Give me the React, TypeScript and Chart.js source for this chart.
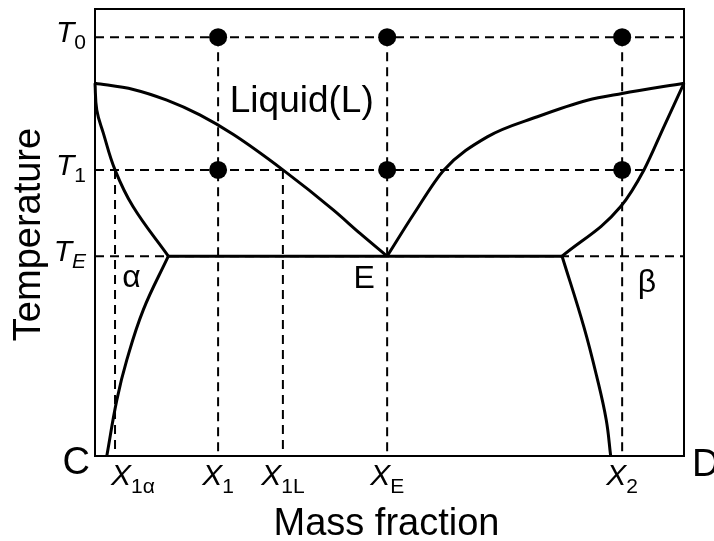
import React, { useEffect, useRef } from 'react';
import { Chart, registerables } from 'chart.js';

Chart.register(...registerables);

// Temperature levels on a 0–100 scale
const T0 = 93.7;
const T1 = 64.0;
const TE = 44.7;

// Characteristic compositions (mass fraction, 0–100)
const X1A = 3.4;
const X1 = 20.9;
const X1L = 31.9;
const XE = 49.6;
const X2 = 89.5;

// Axis tick labels
const tempLevels = [T0, T1, TE];
const tempSubs = ['0', '1', 'E'];
const tempSubItalic = [false, false, true];
const compValues = [X1A, X1, X1L, XE, X2];
const compSubs = ['1\u03b1', '1', '1L', 'E', '2'];

// Phase boundaries, each listed in increasing composition
const leftLiquidusX = [0, 6.5, 12.2, 17.8, 23.5, 31.9, 40.5, 45.0, XE];
const leftLiquidusY = [83.4, 82.0, 79.6, 76.3, 71.9, 64.0, 55.0, 49.8, TE];

const leftSolidusX = [0, 0.3, 1.4, 3.4, 6.45, 12.45];
const leftSolidusY = [83.4, 77.4, 72.3, 64.0, 55.8, TE];

const leftSolvusX = [2.0, 3.7, 5.4, 8.2, 12.45];
const leftSolvusY = [0, 12.5, 21.5, 32.7, TE];

const rightLiquidusX = [XE, 54.2, 59.25, 66.6, 75.1, 83.6, 89.5, 100];
const rightLiquidusY = [TE, 54.3, 64.0, 71.4, 75.9, 79.6, 81.1, 83.4];

const rightSolidusX = [79.3, 89.25, 93.2, 96.6, 100];
const rightSolidusY = [TE, 55.8, 64.0, 73.7, 83.4];

const rightSolvusX = [79.3, 83.0, 85.2, 86.8, 87.55];
const rightSolvusY = [TE, 28.9, 17.7, 8.05, 0];

const eutecticX = [12.45, 79.3];

// State points (composition, temperature)
const stateX = [X1, XE, X2, X1, XE, X2];
const stateY = [T0, T0, T0, T1, T1, T1];

// Region labels
const regionText = ['Liquid(L)', 'E', '\u03b1', '\u03b2'];
const regionX = [35.1, 45.7, 6.2, 93.7];
const regionY = [77.0, 37.6, 37.8, 36.7];

const FONT = '"Liberation Sans", Arial, Helvetica, sans-serif';

const pts = (xs: number[], ys: number[]) => xs.map((x, i) => ({ x, y: ys[i] }));

// liquidus / solidus: smooth in composition; steep branches: bezier smoothing
function curve(data: { x: number; y: number }[], monotone: boolean) {
  return {
    data,
    showLine: true,
    borderColor: '#000',
    borderWidth: 3,
    pointRadius: 0,
    ...(monotone ? { cubicInterpolationMode: 'monotone' } : { tension: 0.4 }),
    fill: false,
    order: 2,
    clip: 6,
  };
}

function dashed(data: { x: number; y: number }[]) {
  return {
    data,
    showLine: true,
    borderColor: '#000',
    borderWidth: 2,
    borderDash: [9, 6],
    pointRadius: 0,
    tension: 0,
    fill: false,
    order: 3,
    clip: 6,
  };
}

function drawComposite(
  ctx: CanvasRenderingContext2D,
  main: string,
  sub: string,
  subItalic: boolean,
  left: number,
  base: number,
  mainSize: number,
  subSize: number,
  drop: number
) {
  ctx.font = `italic ${mainSize}px ${FONT}`;
  const mw = ctx.measureText(main).width;
  ctx.fillText(main, left, base);
  ctx.font = `${subItalic ? 'italic ' : ''}${subSize}px ${FONT}`;
  ctx.fillText(sub, left + mw, base + drop);
}

function compositeWidth(
  ctx: CanvasRenderingContext2D,
  main: string,
  sub: string,
  subItalic: boolean,
  mainSize: number,
  subSize: number
) {
  ctx.font = `italic ${mainSize}px ${FONT}`;
  const mw = ctx.measureText(main).width;
  ctx.font = `${subItalic ? 'italic ' : ''}${subSize}px ${FONT}`;
  return mw + ctx.measureText(sub).width;
}

const labelsPlugin = {
  id: 'phaseLabels',
  afterDraw(chart: any) {
    const { ctx, chartArea, scales } = chart;
    const xs = scales.x;
    const ys = scales.y;
    const { left, right, top, bottom } = chartArea;
    ctx.save();

    // frame
    ctx.strokeStyle = '#000';
    ctx.lineWidth = 2;
    ctx.setLineDash([]);
    ctx.strokeRect(left, top, right - left, bottom - top);

    ctx.fillStyle = '#000';
    ctx.textAlign = 'left';
    ctx.textBaseline = 'alphabetic';

    // temperature tick labels
    tempLevels.forEach((v, i) => {
      const py = ys.getPixelForValue(v);
      const w = compositeWidth(ctx, 'T', tempSubs[i], tempSubItalic[i], 30, 21);
      drawComposite(ctx, 'T', tempSubs[i], tempSubItalic[i], left - 9 - w, py + 5, 30, 21, 7);
    });

    // composition tick labels
    compValues.forEach((v, i) => {
      const px = xs.getPixelForValue(v);
      const w = compositeWidth(ctx, 'X', compSubs[i], false, 30, 21);
      let lx = px - w / 2;
      if (lx < left + 16) lx = left + 16;
      drawComposite(ctx, 'X', compSubs[i], false, lx, bottom + 29, 30, 21, 8);
    });

    // corner labels
    ctx.font = `38px ${FONT}`;
    ctx.textAlign = 'right';
    ctx.fillText('C', left - 5, bottom + 18);
    ctx.textAlign = 'left';
    ctx.fillText('D', right + 8, bottom + 20);

    // region labels
    ctx.textAlign = 'center';
    regionText.forEach((t, i) => {
      ctx.font = i === 0 ? `37px ${FONT}` : `32px ${FONT}`;
      ctx.fillText(t, xs.getPixelForValue(regionX[i]), ys.getPixelForValue(regionY[i]));
    });

    // axis titles
    ctx.font = `38px ${FONT}`;
    ctx.textAlign = 'center';
    ctx.fillText('Mass fraction', (left + right) / 2 - 3, bottom + 79);
    ctx.save();
    ctx.translate(left - 55, (top + bottom) / 2 + 2);
    ctx.rotate(-Math.PI / 2);
    ctx.fillText('Temperature', 0, 0);
    ctx.restore();

    ctx.restore();
  },
};

export default function App() {
  const canvasRef = useRef<HTMLCanvasElement | null>(null);

  useEffect(() => {
    const canvas = canvasRef.current;
    if (!canvas) return;

    const datasets: any[] = [
      // guide lines
      dashed(pts([0, 100], [T0, T0])),
      dashed(pts([0, 100], [T1, T1])),
      dashed(pts([0, 100], [TE, TE])),
      dashed(pts([X1A, X1A], [T1, 0])),
      dashed(pts([X1, X1], [T0, 0])),
      dashed(pts([X1L, X1L], [T1, 0])),
      dashed(pts([XE, XE], [T0, 0])),
      dashed(pts([X2, X2], [T0, 0])),
      // phase boundaries
      curve(pts(leftLiquidusX, leftLiquidusY), true),
      curve(pts(leftSolidusX, leftSolidusY), false),
      curve(pts(leftSolvusX, leftSolvusY), false),
      curve(pts(rightLiquidusX, rightLiquidusY), true),
      curve(pts(rightSolidusX, rightSolidusY), true),
      curve(pts(rightSolvusX, rightSolvusY), false),
      curve(pts(eutecticX, [TE, TE]), false),
      // state points
      {
        data: pts(stateX, stateY),
        showLine: false,
        pointRadius: 9,
        pointBackgroundColor: '#000',
        pointBorderWidth: 0,
        order: 1,
        clip: false,
      },
    ];

    const chart = new Chart(canvas, {
      type: 'scatter',
      data: { datasets },
      options: {
        animation: false,
        responsive: false,
        events: [],
        layout: { padding: { left: 95, top: 9, right: 30, bottom: 85 } },
        plugins: {
          legend: { display: false },
          tooltip: { enabled: false },
        },
        scales: {
          x: { type: 'linear', min: 0, max: 100, display: false },
          y: { type: 'linear', min: 0, max: 100, display: false },
        },
      },
      plugins: [labelsPlugin],
    });

    return () => chart.destroy();
  }, []);

  return (
    <div style={{ position: 'fixed', left: 0, top: 0, width: 714, height: 541, background: '#fff' }}>
      <canvas ref={canvasRef} width={714} height={541} style={{ display: 'block' }} />
    </div>
  );
}
